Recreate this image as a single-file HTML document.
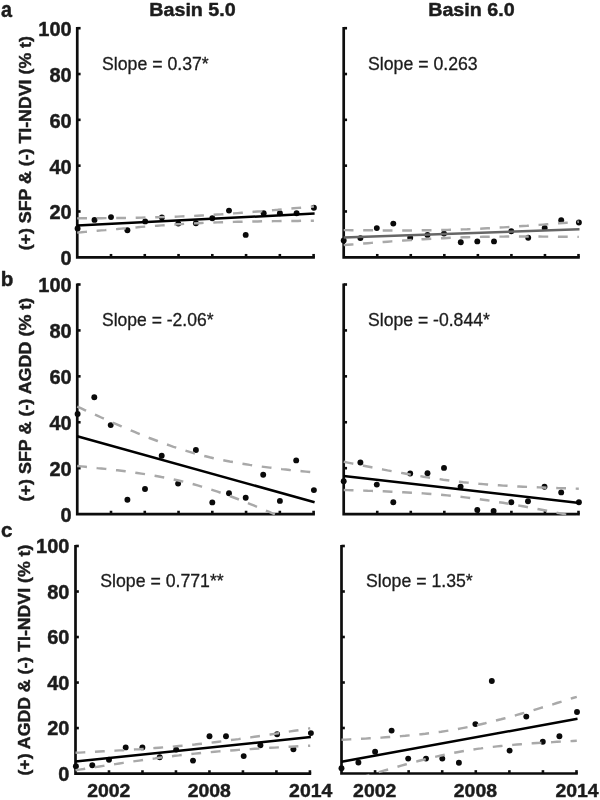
<!DOCTYPE html>
<html><head><meta charset="utf-8"><title>Figure</title>
<style>
html,body{margin:0;padding:0;background:#fff;}
body{width:600px;height:800px;overflow:hidden;font-family:"Liberation Sans",sans-serif;}
svg{display:block;will-change:transform}
text{font-family:"Liberation Sans",sans-serif;fill:#1c1c1c;stroke:#1c1c1c;stroke-width:0.3px}
.b{font-weight:bold;stroke:#1c1c1c;stroke-width:0.45px;stroke-linejoin:round}
</style></head><body>
<svg width="600" height="800" viewBox="0 0 600 800">
<rect width="600" height="800" fill="#fff"/>
<clipPath id="caL"><rect x="71.25" y="23.20" width="249.65" height="235.45"/></clipPath>
<path d="M77.25,27.10 V257.30 H314.90" fill="none" stroke="#0d0d0d" stroke-width="2.7" stroke-linejoin="miter" stroke-linecap="butt"/>
<line x1="77.25" y1="211.48" x2="80.60" y2="211.48" stroke="#0d0d0d" stroke-width="2.6"/>
<line x1="77.25" y1="165.66" x2="80.60" y2="165.66" stroke="#0d0d0d" stroke-width="2.6"/>
<line x1="77.25" y1="119.84" x2="80.60" y2="119.84" stroke="#0d0d0d" stroke-width="2.6"/>
<line x1="77.25" y1="74.02" x2="80.60" y2="74.02" stroke="#0d0d0d" stroke-width="2.6"/>
<line x1="77.25" y1="28.20" x2="80.60" y2="28.20" stroke="#0d0d0d" stroke-width="2.6"/>
<line x1="111.01" y1="257.30" x2="111.01" y2="253.95" stroke="#0d0d0d" stroke-width="2.6"/>
<line x1="144.78" y1="257.30" x2="144.78" y2="253.95" stroke="#0d0d0d" stroke-width="2.6"/>
<line x1="178.54" y1="257.30" x2="178.54" y2="253.95" stroke="#0d0d0d" stroke-width="2.6"/>
<line x1="212.31" y1="257.30" x2="212.31" y2="253.95" stroke="#0d0d0d" stroke-width="2.6"/>
<line x1="246.07" y1="257.30" x2="246.07" y2="253.95" stroke="#0d0d0d" stroke-width="2.6"/>
<line x1="279.84" y1="257.30" x2="279.84" y2="253.95" stroke="#0d0d0d" stroke-width="2.6"/>
<line x1="313.60" y1="257.30" x2="313.60" y2="253.95" stroke="#0d0d0d" stroke-width="2.6"/>
<g clip-path="url(#caL)">
<circle cx="77.6" cy="228.4" r="2.95" fill="#0a0a0a"/>
<circle cx="94.5" cy="219.9" r="2.95" fill="#0a0a0a"/>
<circle cx="111.0" cy="217.1" r="2.95" fill="#0a0a0a"/>
<circle cx="127.4" cy="230.3" r="2.95" fill="#0a0a0a"/>
<circle cx="145.2" cy="221.4" r="2.95" fill="#0a0a0a"/>
<circle cx="161.9" cy="217.5" r="2.95" fill="#0a0a0a"/>
<circle cx="178.3" cy="223.6" r="2.95" fill="#0a0a0a"/>
<circle cx="195.9" cy="223.2" r="2.95" fill="#0a0a0a"/>
<circle cx="212.3" cy="218.2" r="2.95" fill="#0a0a0a"/>
<circle cx="229.0" cy="210.6" r="2.95" fill="#0a0a0a"/>
<circle cx="245.7" cy="234.9" r="2.95" fill="#0a0a0a"/>
<circle cx="263.7" cy="213.2" r="2.95" fill="#0a0a0a"/>
<circle cx="279.9" cy="213.2" r="2.95" fill="#0a0a0a"/>
<circle cx="296.6" cy="213.2" r="2.95" fill="#0a0a0a"/>
<circle cx="313.9" cy="207.8" r="2.95" fill="#0a0a0a"/>
<line x1="77.2" y1="225.5" x2="314.6" y2="213.6" stroke="#000" stroke-width="2.5"/>
<path d="M77.2,218.4 L81.3,218.3 L85.3,218.3 L89.3,218.3 L93.3,218.2 L97.3,218.2 L101.3,218.2 L105.3,218.1 L109.3,218.1 L113.3,218.0 L117.4,218.0 L121.4,217.9 L125.4,217.9 L129.4,217.8 L133.4,217.8 L137.4,217.7 L141.4,217.6 L145.4,217.5 L149.4,217.4 L153.5,217.3 L157.5,217.2 L161.5,217.1 L165.5,217.0 L169.5,216.9 L173.5,216.7 L177.5,216.6 L181.5,216.4 L185.5,216.3 L189.6,216.1 L193.6,215.9 L197.6,215.7 L201.6,215.5 L205.6,215.3 L209.6,215.0 L213.6,214.8 L217.6,214.5 L221.6,214.3 L225.7,214.0 L229.7,213.7 L233.7,213.4 L237.7,213.1 L241.7,212.8 L245.7,212.5 L249.7,212.2 L253.7,211.8 L257.7,211.5 L261.8,211.2 L265.8,210.8 L269.8,210.5 L273.8,210.1 L277.8,209.8 L281.8,209.4 L285.8,209.0 L289.8,208.7 L293.8,208.3 L297.9,207.9 L301.9,207.6 L305.9,207.2 L309.9,206.8 L313.9,206.5" fill="none" stroke="#a9a9a9" stroke-width="2.45" stroke-dasharray="9.8 9.7"/>
<path d="M77.2,232.6 L81.3,232.3 L85.3,231.9 L89.3,231.5 L93.3,231.2 L97.3,230.8 L101.3,230.4 L105.3,230.1 L109.3,229.7 L113.3,229.3 L117.4,229.0 L121.4,228.6 L125.4,228.3 L129.4,227.9 L133.4,227.6 L137.4,227.3 L141.4,226.9 L145.4,226.6 L149.4,226.3 L153.5,226.0 L157.5,225.7 L161.5,225.4 L165.5,225.1 L169.5,224.8 L173.5,224.6 L177.5,224.3 L181.5,224.1 L185.5,223.8 L189.6,223.6 L193.6,223.4 L197.6,223.2 L201.6,223.0 L205.6,222.8 L209.6,222.7 L213.6,222.5 L217.6,222.4 L221.6,222.2 L225.7,222.1 L229.7,222.0 L233.7,221.9 L237.7,221.8 L241.7,221.7 L245.7,221.6 L249.7,221.5 L253.7,221.4 L257.7,221.4 L261.8,221.3 L265.8,221.2 L269.8,221.2 L273.8,221.1 L277.8,221.1 L281.8,221.0 L285.8,221.0 L289.8,220.9 L293.8,220.9 L297.9,220.9 L301.9,220.8 L305.9,220.8 L309.9,220.8 L313.9,220.7" fill="none" stroke="#a9a9a9" stroke-width="2.45" stroke-dasharray="9.8 9.7"/>
</g>
<clipPath id="caR"><rect x="337.70" y="23.20" width="248.10" height="235.45"/></clipPath>
<path d="M343.70,27.10 V257.30 H579.80" fill="none" stroke="#0d0d0d" stroke-width="2.7" stroke-linejoin="miter" stroke-linecap="butt"/>
<line x1="343.70" y1="211.48" x2="347.05" y2="211.48" stroke="#0d0d0d" stroke-width="2.6"/>
<line x1="343.70" y1="165.66" x2="347.05" y2="165.66" stroke="#0d0d0d" stroke-width="2.6"/>
<line x1="343.70" y1="119.84" x2="347.05" y2="119.84" stroke="#0d0d0d" stroke-width="2.6"/>
<line x1="343.70" y1="74.02" x2="347.05" y2="74.02" stroke="#0d0d0d" stroke-width="2.6"/>
<line x1="343.70" y1="28.20" x2="347.05" y2="28.20" stroke="#0d0d0d" stroke-width="2.6"/>
<line x1="377.24" y1="257.30" x2="377.24" y2="253.95" stroke="#0d0d0d" stroke-width="2.6"/>
<line x1="410.79" y1="257.30" x2="410.79" y2="253.95" stroke="#0d0d0d" stroke-width="2.6"/>
<line x1="444.33" y1="257.30" x2="444.33" y2="253.95" stroke="#0d0d0d" stroke-width="2.6"/>
<line x1="477.87" y1="257.30" x2="477.87" y2="253.95" stroke="#0d0d0d" stroke-width="2.6"/>
<line x1="511.41" y1="257.30" x2="511.41" y2="253.95" stroke="#0d0d0d" stroke-width="2.6"/>
<line x1="544.96" y1="257.30" x2="544.96" y2="253.95" stroke="#0d0d0d" stroke-width="2.6"/>
<line x1="578.50" y1="257.30" x2="578.50" y2="253.95" stroke="#0d0d0d" stroke-width="2.6"/>
<g clip-path="url(#caR)">
<circle cx="343.7" cy="240.5" r="2.95" fill="#0a0a0a"/>
<circle cx="360.4" cy="238.1" r="2.95" fill="#0a0a0a"/>
<circle cx="376.8" cy="228.1" r="2.95" fill="#0a0a0a"/>
<circle cx="393.3" cy="223.6" r="2.95" fill="#0a0a0a"/>
<circle cx="410.2" cy="237.7" r="2.95" fill="#0a0a0a"/>
<circle cx="427.5" cy="234.9" r="2.95" fill="#0a0a0a"/>
<circle cx="444.0" cy="233.6" r="2.95" fill="#0a0a0a"/>
<circle cx="460.8" cy="242.2" r="2.95" fill="#0a0a0a"/>
<circle cx="477.3" cy="241.4" r="2.95" fill="#0a0a0a"/>
<circle cx="494.0" cy="241.4" r="2.95" fill="#0a0a0a"/>
<circle cx="511.3" cy="231.2" r="2.95" fill="#0a0a0a"/>
<circle cx="528.2" cy="237.7" r="2.95" fill="#0a0a0a"/>
<circle cx="544.7" cy="227.9" r="2.95" fill="#0a0a0a"/>
<circle cx="561.2" cy="220.3" r="2.95" fill="#0a0a0a"/>
<circle cx="578.9" cy="222.5" r="2.95" fill="#0a0a0a"/>
<line x1="343.7" y1="237.6" x2="579.5" y2="229.3" stroke="#666" stroke-width="2.5"/>
<path d="M343.7,230.1 L347.7,230.1 L351.7,230.2 L355.7,230.2 L359.6,230.2 L363.6,230.3 L367.6,230.3 L371.6,230.3 L375.6,230.4 L379.6,230.4 L383.5,230.4 L387.5,230.4 L391.5,230.4 L395.5,230.4 L399.5,230.4 L403.5,230.4 L407.5,230.4 L411.4,230.4 L415.4,230.4 L419.4,230.4 L423.4,230.3 L427.4,230.3 L431.4,230.2 L435.3,230.2 L439.3,230.1 L443.3,230.0 L447.3,229.9 L451.3,229.8 L455.3,229.7 L459.3,229.6 L463.2,229.4 L467.2,229.3 L471.2,229.1 L475.2,228.9 L479.2,228.7 L483.2,228.5 L487.2,228.3 L491.1,228.1 L495.1,227.9 L499.1,227.6 L503.1,227.4 L507.1,227.1 L511.1,226.9 L515.0,226.6 L519.0,226.3 L523.0,226.0 L527.0,225.8 L531.0,225.5 L535.0,225.2 L539.0,224.9 L542.9,224.6 L546.9,224.3 L550.9,224.0 L554.9,223.7 L558.9,223.3 L562.9,223.0 L566.8,222.7 L570.8,222.4 L574.8,222.1 L578.8,221.7" fill="none" stroke="#a9a9a9" stroke-width="2.45" stroke-dasharray="9.8 9.7"/>
<path d="M343.7,245.1 L347.7,244.8 L351.7,244.5 L355.7,244.2 L359.6,243.8 L363.6,243.5 L367.6,243.2 L371.6,242.9 L375.6,242.6 L379.6,242.3 L383.5,242.0 L387.5,241.7 L391.5,241.4 L395.5,241.1 L399.5,240.8 L403.5,240.5 L407.5,240.3 L411.4,240.0 L415.4,239.7 L419.4,239.5 L423.4,239.2 L427.4,239.0 L431.4,238.8 L435.3,238.6 L439.3,238.4 L443.3,238.2 L447.3,238.0 L451.3,237.8 L455.3,237.6 L459.3,237.5 L463.2,237.3 L467.2,237.2 L471.2,237.1 L475.2,237.0 L479.2,236.9 L483.2,236.8 L487.2,236.8 L491.1,236.7 L495.1,236.6 L499.1,236.6 L503.1,236.6 L507.1,236.5 L511.1,236.5 L515.0,236.5 L519.0,236.5 L523.0,236.5 L527.0,236.5 L531.0,236.5 L535.0,236.5 L539.0,236.5 L542.9,236.6 L546.9,236.6 L550.9,236.6 L554.9,236.6 L558.9,236.7 L562.9,236.7 L566.8,236.7 L570.8,236.8 L574.8,236.8 L578.8,236.9" fill="none" stroke="#a9a9a9" stroke-width="2.45" stroke-dasharray="9.8 9.7"/>
</g>
<clipPath id="cbL"><rect x="71.25" y="279.50" width="249.65" height="235.95"/></clipPath>
<path d="M77.25,283.40 V514.10 H314.90" fill="none" stroke="#0d0d0d" stroke-width="2.7" stroke-linejoin="miter" stroke-linecap="butt"/>
<line x1="77.25" y1="468.18" x2="80.60" y2="468.18" stroke="#0d0d0d" stroke-width="2.6"/>
<line x1="77.25" y1="422.26" x2="80.60" y2="422.26" stroke="#0d0d0d" stroke-width="2.6"/>
<line x1="77.25" y1="376.34" x2="80.60" y2="376.34" stroke="#0d0d0d" stroke-width="2.6"/>
<line x1="77.25" y1="330.42" x2="80.60" y2="330.42" stroke="#0d0d0d" stroke-width="2.6"/>
<line x1="77.25" y1="284.50" x2="80.60" y2="284.50" stroke="#0d0d0d" stroke-width="2.6"/>
<line x1="111.01" y1="514.10" x2="111.01" y2="510.75" stroke="#0d0d0d" stroke-width="2.6"/>
<line x1="144.78" y1="514.10" x2="144.78" y2="510.75" stroke="#0d0d0d" stroke-width="2.6"/>
<line x1="178.54" y1="514.10" x2="178.54" y2="510.75" stroke="#0d0d0d" stroke-width="2.6"/>
<line x1="212.31" y1="514.10" x2="212.31" y2="510.75" stroke="#0d0d0d" stroke-width="2.6"/>
<line x1="246.07" y1="514.10" x2="246.07" y2="510.75" stroke="#0d0d0d" stroke-width="2.6"/>
<line x1="279.84" y1="514.10" x2="279.84" y2="510.75" stroke="#0d0d0d" stroke-width="2.6"/>
<line x1="313.60" y1="514.10" x2="313.60" y2="510.75" stroke="#0d0d0d" stroke-width="2.6"/>
<g clip-path="url(#cbL)">
<circle cx="77.6" cy="414.0" r="2.95" fill="#0a0a0a"/>
<circle cx="94.3" cy="397.3" r="2.95" fill="#0a0a0a"/>
<circle cx="110.7" cy="425.1" r="2.95" fill="#0a0a0a"/>
<circle cx="127.4" cy="499.8" r="2.95" fill="#0a0a0a"/>
<circle cx="145.0" cy="489.0" r="2.95" fill="#0a0a0a"/>
<circle cx="161.7" cy="455.8" r="2.95" fill="#0a0a0a"/>
<circle cx="178.1" cy="483.6" r="2.95" fill="#0a0a0a"/>
<circle cx="195.9" cy="450.0" r="2.95" fill="#0a0a0a"/>
<circle cx="212.3" cy="502.4" r="2.95" fill="#0a0a0a"/>
<circle cx="229.0" cy="493.3" r="2.95" fill="#0a0a0a"/>
<circle cx="245.7" cy="497.7" r="2.95" fill="#0a0a0a"/>
<circle cx="263.2" cy="474.7" r="2.95" fill="#0a0a0a"/>
<circle cx="279.9" cy="500.9" r="2.95" fill="#0a0a0a"/>
<circle cx="296.2" cy="460.4" r="2.95" fill="#0a0a0a"/>
<circle cx="313.9" cy="490.1" r="2.95" fill="#0a0a0a"/>
<line x1="77.2" y1="436.3" x2="314.6" y2="502.2" stroke="#000" stroke-width="2.5"/>
<path d="M77.2,406.6 L81.3,408.4 L85.3,410.3 L89.3,412.1 L93.3,413.9 L97.3,415.7 L101.3,417.5 L105.3,419.3 L109.3,421.1 L113.3,422.9 L117.4,424.6 L121.4,426.3 L125.4,428.1 L129.4,429.8 L133.4,431.4 L137.4,433.1 L141.4,434.7 L145.4,436.4 L149.4,438.0 L153.5,439.5 L157.5,441.0 L161.5,442.5 L165.5,444.0 L169.5,445.4 L173.5,446.8 L177.5,448.1 L181.5,449.4 L185.5,450.7 L189.6,451.9 L193.6,453.1 L197.6,454.2 L201.6,455.3 L205.6,456.3 L209.6,457.3 L213.6,458.2 L217.6,459.1 L221.6,459.9 L225.7,460.7 L229.7,461.5 L233.7,462.2 L237.7,462.9 L241.7,463.6 L245.7,464.2 L249.7,464.9 L253.7,465.5 L257.7,466.0 L261.8,466.6 L265.8,467.1 L269.8,467.6 L273.8,468.1 L277.8,468.6 L281.8,469.1 L285.8,469.5 L289.8,470.0 L293.8,470.4 L297.9,470.8 L301.9,471.2 L305.9,471.6 L309.9,472.0 L313.9,472.4" fill="none" stroke="#a9a9a9" stroke-width="2.45" stroke-dasharray="9.8 9.7"/>
<path d="M77.2,466.0 L81.3,466.4 L85.3,466.8 L89.3,467.2 L93.3,467.6 L97.3,468.1 L101.3,468.5 L105.3,468.9 L109.3,469.4 L113.3,469.9 L117.4,470.3 L121.4,470.8 L125.4,471.3 L129.4,471.9 L133.4,472.4 L137.4,473.0 L141.4,473.6 L145.4,474.2 L149.4,474.9 L153.5,475.5 L157.5,476.2 L161.5,477.0 L165.5,477.7 L169.5,478.6 L173.5,479.4 L177.5,480.3 L181.5,481.2 L185.5,482.2 L189.6,483.2 L193.6,484.3 L197.6,485.4 L201.6,486.6 L205.6,487.8 L209.6,489.1 L213.6,490.4 L217.6,491.7 L221.6,493.1 L225.7,494.5 L229.7,496.0 L233.7,497.5 L237.7,499.0 L241.7,500.6 L245.7,502.2 L249.7,503.8 L253.7,505.4 L257.7,507.1 L261.8,508.8 L265.8,510.5 L269.8,512.2 L273.8,514.0 L277.8,515.7 L281.8,517.5 L285.8,519.3 L289.8,521.0 L293.8,522.8 L297.9,524.7 L301.9,526.5 L305.9,528.3 L309.9,530.1 L313.9,532.0" fill="none" stroke="#a9a9a9" stroke-width="2.45" stroke-dasharray="9.8 9.7"/>
</g>
<clipPath id="cbR"><rect x="337.70" y="279.50" width="248.10" height="235.95"/></clipPath>
<path d="M343.70,283.40 V514.10 H579.80" fill="none" stroke="#0d0d0d" stroke-width="2.7" stroke-linejoin="miter" stroke-linecap="butt"/>
<line x1="343.70" y1="468.18" x2="347.05" y2="468.18" stroke="#0d0d0d" stroke-width="2.6"/>
<line x1="343.70" y1="422.26" x2="347.05" y2="422.26" stroke="#0d0d0d" stroke-width="2.6"/>
<line x1="343.70" y1="376.34" x2="347.05" y2="376.34" stroke="#0d0d0d" stroke-width="2.6"/>
<line x1="343.70" y1="330.42" x2="347.05" y2="330.42" stroke="#0d0d0d" stroke-width="2.6"/>
<line x1="343.70" y1="284.50" x2="347.05" y2="284.50" stroke="#0d0d0d" stroke-width="2.6"/>
<line x1="377.24" y1="514.10" x2="377.24" y2="510.75" stroke="#0d0d0d" stroke-width="2.6"/>
<line x1="410.79" y1="514.10" x2="410.79" y2="510.75" stroke="#0d0d0d" stroke-width="2.6"/>
<line x1="444.33" y1="514.10" x2="444.33" y2="510.75" stroke="#0d0d0d" stroke-width="2.6"/>
<line x1="477.87" y1="514.10" x2="477.87" y2="510.75" stroke="#0d0d0d" stroke-width="2.6"/>
<line x1="511.41" y1="514.10" x2="511.41" y2="510.75" stroke="#0d0d0d" stroke-width="2.6"/>
<line x1="544.96" y1="514.10" x2="544.96" y2="510.75" stroke="#0d0d0d" stroke-width="2.6"/>
<line x1="578.50" y1="514.10" x2="578.50" y2="510.75" stroke="#0d0d0d" stroke-width="2.6"/>
<g clip-path="url(#cbR)">
<circle cx="343.7" cy="481.3" r="2.95" fill="#0a0a0a"/>
<circle cx="360.4" cy="462.5" r="2.95" fill="#0a0a0a"/>
<circle cx="376.8" cy="484.6" r="2.95" fill="#0a0a0a"/>
<circle cx="393.3" cy="502.3" r="2.95" fill="#0a0a0a"/>
<circle cx="410.2" cy="473.5" r="2.95" fill="#0a0a0a"/>
<circle cx="427.5" cy="473.3" r="2.95" fill="#0a0a0a"/>
<circle cx="444.0" cy="467.9" r="2.95" fill="#0a0a0a"/>
<circle cx="460.6" cy="486.6" r="2.95" fill="#0a0a0a"/>
<circle cx="477.3" cy="509.9" r="2.95" fill="#0a0a0a"/>
<circle cx="493.6" cy="511.0" r="2.95" fill="#0a0a0a"/>
<circle cx="511.3" cy="502.3" r="2.95" fill="#0a0a0a"/>
<circle cx="528.0" cy="501.3" r="2.95" fill="#0a0a0a"/>
<circle cx="544.5" cy="486.7" r="2.95" fill="#0a0a0a"/>
<circle cx="561.2" cy="492.4" r="2.95" fill="#0a0a0a"/>
<circle cx="578.9" cy="502.3" r="2.95" fill="#0a0a0a"/>
<line x1="343.7" y1="475.9" x2="579.5" y2="502.9" stroke="#000" stroke-width="2.5"/>
<path d="M343.7,461.8 L347.7,462.6 L351.7,463.4 L355.7,464.2 L359.6,465.0 L363.6,465.7 L367.6,466.5 L371.6,467.3 L375.6,468.1 L379.6,468.8 L383.5,469.6 L387.5,470.4 L391.5,471.1 L395.5,471.8 L399.5,472.6 L403.5,473.3 L407.5,474.0 L411.4,474.7 L415.4,475.4 L419.4,476.0 L423.4,476.7 L427.4,477.3 L431.4,477.9 L435.3,478.5 L439.3,479.1 L443.3,479.7 L447.3,480.2 L451.3,480.8 L455.3,481.2 L459.3,481.7 L463.2,482.2 L467.2,482.6 L471.2,483.0 L475.2,483.4 L479.2,483.8 L483.2,484.1 L487.2,484.5 L491.1,484.8 L495.1,485.1 L499.1,485.3 L503.1,485.6 L507.1,485.8 L511.1,486.1 L515.0,486.3 L519.0,486.5 L523.0,486.7 L527.0,486.9 L531.0,487.0 L535.0,487.2 L539.0,487.4 L542.9,487.5 L546.9,487.7 L550.9,487.8 L554.9,488.0 L558.9,488.1 L562.9,488.2 L566.8,488.3 L570.8,488.5 L574.8,488.6 L578.8,488.7" fill="none" stroke="#a9a9a9" stroke-width="2.45" stroke-dasharray="9.8 9.7"/>
<path d="M343.7,490.0 L347.7,490.1 L351.7,490.3 L355.7,490.4 L359.6,490.5 L363.6,490.6 L367.6,490.8 L371.6,490.9 L375.6,491.0 L379.6,491.2 L383.5,491.3 L387.5,491.5 L391.5,491.7 L395.5,491.9 L399.5,492.1 L403.5,492.3 L407.5,492.5 L411.4,492.7 L415.4,492.9 L419.4,493.2 L423.4,493.4 L427.4,493.7 L431.4,494.0 L435.3,494.3 L439.3,494.6 L443.3,495.0 L447.3,495.4 L451.3,495.8 L455.3,496.2 L459.3,496.6 L463.2,497.1 L467.2,497.6 L471.2,498.1 L475.2,498.6 L479.2,499.1 L483.2,499.7 L487.2,500.3 L491.1,500.9 L495.1,501.5 L499.1,502.2 L503.1,502.8 L507.1,503.5 L511.1,504.2 L515.0,504.9 L519.0,505.6 L523.0,506.3 L527.0,507.0 L531.0,507.8 L535.0,508.5 L539.0,509.3 L542.9,510.0 L546.9,510.8 L550.9,511.6 L554.9,512.4 L558.9,513.1 L562.9,513.9 L566.8,514.7 L570.8,515.5 L574.8,516.3 L578.8,517.1" fill="none" stroke="#a9a9a9" stroke-width="2.45" stroke-dasharray="9.8 9.7"/>
</g>
<clipPath id="ccL"><rect x="69.50" y="541.00" width="247.70" height="233.95"/></clipPath>
<path d="M75.50,544.90 V773.60 H311.20" fill="none" stroke="#0d0d0d" stroke-width="2.7" stroke-linejoin="miter" stroke-linecap="butt"/>
<line x1="75.50" y1="728.08" x2="78.85" y2="728.08" stroke="#0d0d0d" stroke-width="2.6"/>
<line x1="75.50" y1="682.56" x2="78.85" y2="682.56" stroke="#0d0d0d" stroke-width="2.6"/>
<line x1="75.50" y1="637.04" x2="78.85" y2="637.04" stroke="#0d0d0d" stroke-width="2.6"/>
<line x1="75.50" y1="591.52" x2="78.85" y2="591.52" stroke="#0d0d0d" stroke-width="2.6"/>
<line x1="75.50" y1="546.00" x2="78.85" y2="546.00" stroke="#0d0d0d" stroke-width="2.6"/>
<line x1="108.99" y1="773.60" x2="108.99" y2="770.25" stroke="#0d0d0d" stroke-width="2.6"/>
<line x1="142.47" y1="773.60" x2="142.47" y2="770.25" stroke="#0d0d0d" stroke-width="2.6"/>
<line x1="175.96" y1="773.60" x2="175.96" y2="770.25" stroke="#0d0d0d" stroke-width="2.6"/>
<line x1="209.44" y1="773.60" x2="209.44" y2="770.25" stroke="#0d0d0d" stroke-width="2.6"/>
<line x1="242.93" y1="773.60" x2="242.93" y2="770.25" stroke="#0d0d0d" stroke-width="2.6"/>
<line x1="276.41" y1="773.60" x2="276.41" y2="770.25" stroke="#0d0d0d" stroke-width="2.6"/>
<line x1="309.90" y1="773.60" x2="309.90" y2="770.25" stroke="#0d0d0d" stroke-width="2.6"/>
<g clip-path="url(#ccL)">
<circle cx="75.9" cy="766.3" r="2.95" fill="#0a0a0a"/>
<circle cx="92.3" cy="765.2" r="2.95" fill="#0a0a0a"/>
<circle cx="109.0" cy="759.8" r="2.95" fill="#0a0a0a"/>
<circle cx="125.7" cy="747.4" r="2.95" fill="#0a0a0a"/>
<circle cx="142.4" cy="747.4" r="2.95" fill="#0a0a0a"/>
<circle cx="159.7" cy="757.2" r="2.95" fill="#0a0a0a"/>
<circle cx="176.2" cy="749.6" r="2.95" fill="#0a0a0a"/>
<circle cx="193.0" cy="760.6" r="2.95" fill="#0a0a0a"/>
<circle cx="209.5" cy="736.2" r="2.95" fill="#0a0a0a"/>
<circle cx="226.0" cy="736.2" r="2.95" fill="#0a0a0a"/>
<circle cx="243.7" cy="756.1" r="2.95" fill="#0a0a0a"/>
<circle cx="260.4" cy="745.3" r="2.95" fill="#0a0a0a"/>
<circle cx="277.1" cy="734.2" r="2.95" fill="#0a0a0a"/>
<circle cx="293.4" cy="749.2" r="2.95" fill="#0a0a0a"/>
<circle cx="310.9" cy="733.1" r="2.95" fill="#0a0a0a"/>
<line x1="75.5" y1="761.5" x2="310.9" y2="737.0" stroke="#000" stroke-width="2.5"/>
<path d="M75.5,752.8 L79.5,752.6 L83.5,752.4 L87.4,752.2 L91.4,752.0 L95.4,751.7 L99.4,751.5 L103.3,751.3 L107.3,751.1 L111.3,750.9 L115.3,750.6 L119.3,750.4 L123.2,750.2 L127.2,749.9 L131.2,749.7 L135.2,749.4 L139.1,749.2 L143.1,748.9 L147.1,748.6 L151.1,748.3 L155.1,748.0 L159.0,747.7 L163.0,747.4 L167.0,747.1 L171.0,746.8 L174.9,746.4 L178.9,746.0 L182.9,745.7 L186.9,745.3 L190.9,744.9 L194.8,744.5 L198.8,744.0 L202.8,743.6 L206.8,743.1 L210.8,742.7 L214.7,742.2 L218.7,741.7 L222.7,741.2 L226.7,740.7 L230.6,740.1 L234.6,739.6 L238.6,739.1 L242.6,738.5 L246.6,738.0 L250.5,737.4 L254.5,736.8 L258.5,736.2 L262.5,735.6 L266.4,735.1 L270.4,734.5 L274.4,733.9 L278.4,733.3 L282.4,732.6 L286.3,732.0 L290.3,731.4 L294.3,730.8 L298.3,730.2 L302.2,729.6 L306.2,728.9 L310.2,728.3" fill="none" stroke="#a9a9a9" stroke-width="2.45" stroke-dasharray="9.8 9.7"/>
<path d="M75.5,770.2 L79.5,769.6 L83.5,769.0 L87.4,768.3 L91.4,767.7 L95.4,767.1 L99.4,766.5 L103.3,765.9 L107.3,765.3 L111.3,764.7 L115.3,764.1 L119.3,763.5 L123.2,762.9 L127.2,762.3 L131.2,761.7 L135.2,761.1 L139.1,760.6 L143.1,760.0 L147.1,759.4 L151.1,758.9 L155.1,758.4 L159.0,757.8 L163.0,757.3 L167.0,756.8 L171.0,756.3 L174.9,755.8 L178.9,755.4 L182.9,754.9 L186.9,754.5 L190.9,754.0 L194.8,753.6 L198.8,753.2 L202.8,752.8 L206.8,752.5 L210.8,752.1 L214.7,751.7 L218.7,751.4 L222.7,751.1 L226.7,750.8 L230.6,750.5 L234.6,750.2 L238.6,749.9 L242.6,749.6 L246.6,749.3 L250.5,749.1 L254.5,748.8 L258.5,748.6 L262.5,748.3 L266.4,748.1 L270.4,747.8 L274.4,747.6 L278.4,747.4 L282.4,747.2 L286.3,746.9 L290.3,746.7 L294.3,746.5 L298.3,746.3 L302.2,746.1 L306.2,745.9 L310.2,745.7" fill="none" stroke="#a9a9a9" stroke-width="2.45" stroke-dasharray="9.8 9.7"/>
</g>
<clipPath id="ccR"><rect x="335.50" y="541.00" width="248.30" height="233.85"/></clipPath>
<path d="M341.50,544.90 V773.50 H577.80" fill="none" stroke="#0d0d0d" stroke-width="2.7" stroke-linejoin="miter" stroke-linecap="butt"/>
<line x1="341.50" y1="728.00" x2="344.85" y2="728.00" stroke="#0d0d0d" stroke-width="2.6"/>
<line x1="341.50" y1="682.50" x2="344.85" y2="682.50" stroke="#0d0d0d" stroke-width="2.6"/>
<line x1="341.50" y1="637.00" x2="344.85" y2="637.00" stroke="#0d0d0d" stroke-width="2.6"/>
<line x1="341.50" y1="591.50" x2="344.85" y2="591.50" stroke="#0d0d0d" stroke-width="2.6"/>
<line x1="341.50" y1="546.00" x2="344.85" y2="546.00" stroke="#0d0d0d" stroke-width="2.6"/>
<line x1="375.07" y1="773.50" x2="375.07" y2="770.15" stroke="#0d0d0d" stroke-width="2.6"/>
<line x1="408.64" y1="773.50" x2="408.64" y2="770.15" stroke="#0d0d0d" stroke-width="2.6"/>
<line x1="442.21" y1="773.50" x2="442.21" y2="770.15" stroke="#0d0d0d" stroke-width="2.6"/>
<line x1="475.79" y1="773.50" x2="475.79" y2="770.15" stroke="#0d0d0d" stroke-width="2.6"/>
<line x1="509.36" y1="773.50" x2="509.36" y2="770.15" stroke="#0d0d0d" stroke-width="2.6"/>
<line x1="542.93" y1="773.50" x2="542.93" y2="770.15" stroke="#0d0d0d" stroke-width="2.6"/>
<line x1="576.50" y1="773.50" x2="576.50" y2="770.15" stroke="#0d0d0d" stroke-width="2.6"/>
<g clip-path="url(#ccR)">
<circle cx="341.5" cy="768.3" r="2.95" fill="#0a0a0a"/>
<circle cx="358.4" cy="762.5" r="2.95" fill="#0a0a0a"/>
<circle cx="375.1" cy="751.7" r="2.95" fill="#0a0a0a"/>
<circle cx="391.6" cy="730.6" r="2.95" fill="#0a0a0a"/>
<circle cx="408.2" cy="758.6" r="2.95" fill="#0a0a0a"/>
<circle cx="426.0" cy="758.6" r="2.95" fill="#0a0a0a"/>
<circle cx="442.3" cy="758.6" r="2.95" fill="#0a0a0a"/>
<circle cx="458.9" cy="762.7" r="2.95" fill="#0a0a0a"/>
<circle cx="475.4" cy="724.1" r="2.95" fill="#0a0a0a"/>
<circle cx="491.8" cy="681.0" r="2.95" fill="#0a0a0a"/>
<circle cx="509.6" cy="750.6" r="2.95" fill="#0a0a0a"/>
<circle cx="526.3" cy="716.6" r="2.95" fill="#0a0a0a"/>
<circle cx="542.8" cy="741.7" r="2.95" fill="#0a0a0a"/>
<circle cx="559.4" cy="736.3" r="2.95" fill="#0a0a0a"/>
<circle cx="577.0" cy="712.0" r="2.95" fill="#0a0a0a"/>
<line x1="341.5" y1="761.8" x2="577.5" y2="718.8" stroke="#000" stroke-width="2.5"/>
<path d="M341.5,739.8 L345.5,739.6 L349.5,739.4 L353.5,739.2 L357.5,739.0 L361.4,738.8 L365.4,738.6 L369.4,738.3 L373.4,738.1 L377.4,737.9 L381.4,737.6 L385.4,737.3 L389.4,737.0 L393.3,736.7 L397.3,736.4 L401.3,736.1 L405.3,735.8 L409.3,735.4 L413.3,735.0 L417.3,734.6 L421.3,734.2 L425.3,733.8 L429.2,733.3 L433.2,732.8 L437.2,732.2 L441.2,731.7 L445.2,731.1 L449.2,730.5 L453.2,729.8 L457.2,729.1 L461.1,728.4 L465.1,727.6 L469.1,726.8 L473.1,726.0 L477.1,725.1 L481.1,724.2 L485.1,723.3 L489.1,722.3 L493.0,721.3 L497.0,720.3 L501.0,719.3 L505.0,718.2 L509.0,717.2 L513.0,716.1 L517.0,714.9 L521.0,713.8 L525.0,712.7 L528.9,711.5 L532.9,710.3 L536.9,709.1 L540.9,707.9 L544.9,706.7 L548.9,705.5 L552.9,704.3 L556.9,703.0 L560.8,701.8 L564.8,700.5 L568.8,699.3 L572.8,698.0 L576.8,696.8" fill="none" stroke="#a9a9a9" stroke-width="2.45" stroke-dasharray="9.8 9.7"/>
<path d="M341.5,783.8 L345.5,782.5 L349.5,781.3 L353.5,780.0 L357.5,778.8 L361.4,777.5 L365.4,776.3 L369.4,775.0 L373.4,773.8 L377.4,772.6 L381.4,771.4 L385.4,770.2 L389.4,769.1 L393.3,767.9 L397.3,766.8 L401.3,765.6 L405.3,764.5 L409.3,763.4 L413.3,762.3 L417.3,761.3 L421.3,760.2 L425.3,759.2 L429.2,758.2 L433.2,757.3 L437.2,756.4 L441.2,755.5 L445.2,754.6 L449.2,753.8 L453.2,753.0 L457.2,752.2 L461.1,751.5 L465.1,750.8 L469.1,750.1 L473.1,749.5 L477.1,748.9 L481.1,748.4 L485.1,747.8 L489.1,747.3 L493.0,746.9 L497.0,746.4 L501.0,746.0 L505.0,745.6 L509.0,745.2 L513.0,744.9 L517.0,744.5 L521.0,744.2 L525.0,743.9 L528.9,743.6 L532.9,743.3 L536.9,743.0 L540.9,742.8 L544.9,742.5 L548.9,742.3 L552.9,742.1 L556.9,741.8 L560.8,741.6 L564.8,741.4 L568.8,741.2 L572.8,741.0 L576.8,740.8" fill="none" stroke="#a9a9a9" stroke-width="2.45" stroke-dasharray="9.8 9.7"/>
</g>
<text class="b" transform="translate(71.65,265.20)" font-size="20" text-anchor="end">0</text>
<text class="b" transform="translate(71.65,219.38)" font-size="20" text-anchor="end">20</text>
<text class="b" transform="translate(71.65,173.56)" font-size="20" text-anchor="end">40</text>
<text class="b" transform="translate(71.65,127.74)" font-size="20" text-anchor="end">60</text>
<text class="b" transform="translate(71.65,81.92)" font-size="20" text-anchor="end">80</text>
<text class="b" transform="translate(71.65,36.10)" font-size="20" text-anchor="end">100</text>
<text class="b" transform="translate(71.65,522.00)" font-size="20" text-anchor="end">0</text>
<text class="b" transform="translate(71.65,476.08)" font-size="20" text-anchor="end">20</text>
<text class="b" transform="translate(71.65,430.16)" font-size="20" text-anchor="end">40</text>
<text class="b" transform="translate(71.65,384.24)" font-size="20" text-anchor="end">60</text>
<text class="b" transform="translate(71.65,338.32)" font-size="20" text-anchor="end">80</text>
<text class="b" transform="translate(71.65,292.40)" font-size="20" text-anchor="end">100</text>
<text class="b" transform="translate(69.40,780.90)" font-size="20" text-anchor="end">0</text>
<text class="b" transform="translate(69.40,735.38)" font-size="20" text-anchor="end">20</text>
<text class="b" transform="translate(69.40,689.86)" font-size="20" text-anchor="end">40</text>
<text class="b" transform="translate(69.40,644.34)" font-size="20" text-anchor="end">60</text>
<text class="b" transform="translate(69.40,598.82)" font-size="20" text-anchor="end">80</text>
<text class="b" transform="translate(69.40,553.30)" font-size="20" text-anchor="end">100</text>
<text class="b" transform="translate(108.75,797.40) scale(1.0550,1)" font-size="18.4" text-anchor="middle">2002</text>
<text class="b" transform="translate(209.30,797.40) scale(1.0550,1)" font-size="18.4" text-anchor="middle">2008</text>
<text class="b" transform="translate(310.70,797.40) scale(1.0550,1)" font-size="18.4" text-anchor="middle">2014</text>
<text class="b" transform="translate(374.70,797.40) scale(1.0550,1)" font-size="18.4" text-anchor="middle">2002</text>
<text class="b" transform="translate(475.40,797.40) scale(1.0550,1)" font-size="18.4" text-anchor="middle">2008</text>
<text class="b" transform="translate(577.00,797.40) scale(1.0550,1)" font-size="18.4" text-anchor="middle">2014</text>
<text class="b" transform="translate(192.50,16.30) scale(1.0370,1)" font-size="19.0" text-anchor="middle">Basin 5.0</text>
<text class="b" transform="translate(471.40,16.30) scale(1.0370,1)" font-size="19.0" text-anchor="middle">Basin 6.0</text>
<text class="b" transform="translate(0.90,16.60) scale(0.9000,1)" font-size="22.0" text-anchor="start">a</text>
<text class="b" transform="translate(0.80,286.00)" font-size="20.6" text-anchor="start">b</text>
<text class="b" transform="translate(1.00,537.30)" font-size="20.6" text-anchor="start">c</text>
<text transform="translate(102.00,69.90)" font-size="17.7" text-anchor="start">Slope = 0.37*</text>
<text transform="translate(368.00,69.90)" font-size="17.7" text-anchor="start">Slope = 0.263</text>
<text transform="translate(102.00,326.10) scale(0.9900,1)" font-size="17.7" text-anchor="start">Slope = -2.06*</text>
<text transform="translate(368.00,326.10) scale(0.9950,1)" font-size="17.7" text-anchor="start">Slope = -0.844*</text>
<text transform="translate(100.30,586.50)" font-size="17.7" text-anchor="start">Slope = 0.771**</text>
<text transform="translate(366.00,586.50)" font-size="17.7" text-anchor="start">Slope = 1.35*</text>
<text class="b" transform="translate(30.90,143.20) rotate(-90) scale(1.0580,1)" font-size="16.8" text-anchor="middle">(+) SFP &amp; (-) TI-NDVI (% t)</text>
<text class="b" transform="translate(30.90,399.60) rotate(-90) scale(1.0680,1)" font-size="16.8" text-anchor="middle">(+) SFP &amp; (-) AGDD (% t)</text>
<text class="b" transform="translate(29.50,660.10) rotate(-90) scale(1.0540,1)" font-size="16.8" text-anchor="middle">(+) AGDD &amp; (-) TI-NDVI (% t)</text>
</svg></body></html>
